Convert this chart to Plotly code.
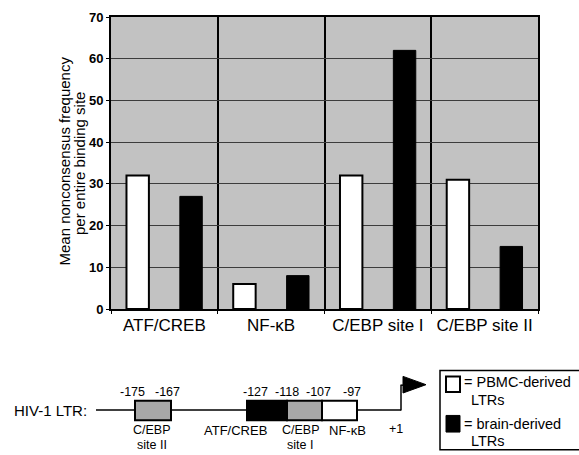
import plotly.graph_objects as go

categories = ["ATF/CREB", "NF-\u03baB", "C/EBP site I", "C/EBP site II"]
pbmc_values = [32, 6, 32, 31]
brain_values = [27, 8, 62, 15]
y_ticks = [0, 10, 20, 30, 40, 50, 60, 70]

W, H = 579, 455
L, R, T, B = 111, 538, 10, 309

def px(xp):
    return (xp - L) / (R - L)

def py(yp):
    return (B - yp) / (B - T)

FONT = "Liberation Sans, Arial, sans-serif"

fig = go.Figure()
fig.add_trace(go.Bar(x=categories, y=pbmc_values, name="PBMC-derived LTRs",
                     marker=dict(color="white", line=dict(color="black", width=2))))
fig.add_trace(go.Bar(x=categories, y=brain_values, name="brain-derived LTRs",
                     marker=dict(color="black", line=dict(color="black", width=1))))

shapes = []
ann = []

def line(x0, y0, x1, y1, w=1.5):
    shapes.append(dict(type="line", xref="paper", yref="paper", x0=px(x0), y0=py(y0),
                       x1=px(x1), y1=py(y1), line=dict(color="black", width=w)))

def rect(x0, y0, x1, y1, fill, w=2):
    shapes.append(dict(type="rect", xref="paper", yref="paper", x0=px(x0), y0=py(y0),
                       x1=px(x1), y1=py(y1), fillcolor=fill, line=dict(color="black", width=w)))

def text(t, x, y, size, anchor="center", angle=0):
    ann.append(dict(text=t, xref="paper", yref="paper", x=px(x), y=py(y), showarrow=False,
                    xanchor=anchor, yanchor="middle", textangle=angle, borderpad=0,
                    font=dict(family=FONT, size=size, color="black")))

# y-axis title (two lines)
text("Mean nonconsensus frequency", 65, 158, 15, angle=-90)
text("per entire binding site", 79.5, 160, 15, angle=-90)

# LTR diagram
line(96, 412.5, 401, 412.5)
line(401, 413, 401, 387)
line(400.5, 387, 404, 387)
path = "M %f,%f L %f,%f L %f,%f Z" % (px(403), py(378), px(426), py(386.5), px(403), py(395))
shapes.append(dict(type="path", xref="paper", yref="paper", path=path,
                   fillcolor="black", line=dict(color="black", width=1)))
rect(135, 403, 171, 423, "#a8a8a8")
rect(247, 403, 287, 423, "black")
rect(287, 403, 322, 423, "#a8a8a8")
rect(322, 403, 357, 423, "white")

text("HIV-1 LTR:", 13, 413, 15, anchor="left")
for t, x in [("-175", 132), ("-167", 167.5), ("-127", 255), ("-118", 287), ("-107", 318), ("-97", 352)]:
    text(t, x, 393.5, 12.5)
text("C/EBP", 152, 433, 12.5)
text("site II", 152, 448, 12.5)
text("ATF/CREB", 235, 433, 13)
text("C/EBP", 301, 433, 12.5)
text("site I", 300, 448, 12.5)
text("NF-\u03baB", 347, 433, 13)
text("+1", 396, 432, 12.5)

# legend box
rect(440, 372, 590, 453, "white", w=1.5)
rect(446, 378, 460, 394, "white", w=2)
rect(446, 418, 460, 435, "black", w=1)
text("= PBMC-derived", 463, 384, 14.5, anchor="left")
text("LTRs", 470, 402, 14.5, anchor="left")
text("= brain-derived", 463, 427, 14.5, anchor="left")
text("LTRs", 470, 444, 14.5, anchor="left")

fig.update_layout(
    width=W, height=H,
    margin=dict(l=L, r=W - R, t=T, b=H - B, pad=0),
    paper_bgcolor="white",
    plot_bgcolor="#c2c2c2",
    barmode="group", bargap=0.0, bargroupgap=0.58,
    showlegend=False,
    shapes=shapes,
    annotations=ann,
    font=dict(family=FONT, color="black"),
)
fig.update_xaxes(
    tickson="boundaries", showgrid=True, gridcolor="black", gridwidth=2,
    showline=True, linecolor="black", linewidth=2, mirror=True,
    ticks="outside", ticklen=3, tickcolor="black",
    tickfont=dict(family=FONT, size=17, color="black"),
)
fig.update_yaxes(
    range=[0, 70], tickvals=y_ticks, showgrid=True, gridcolor="#3c3c3c", gridwidth=1.2,
    showline=True, linecolor="black", linewidth=2, mirror=True,
    zeroline=False, ticks="outside", ticklen=3, tickcolor="black",
    tickfont=dict(family=FONT, size=13, color="black", weight="bold"),
)

fig.write_html("out.html")
